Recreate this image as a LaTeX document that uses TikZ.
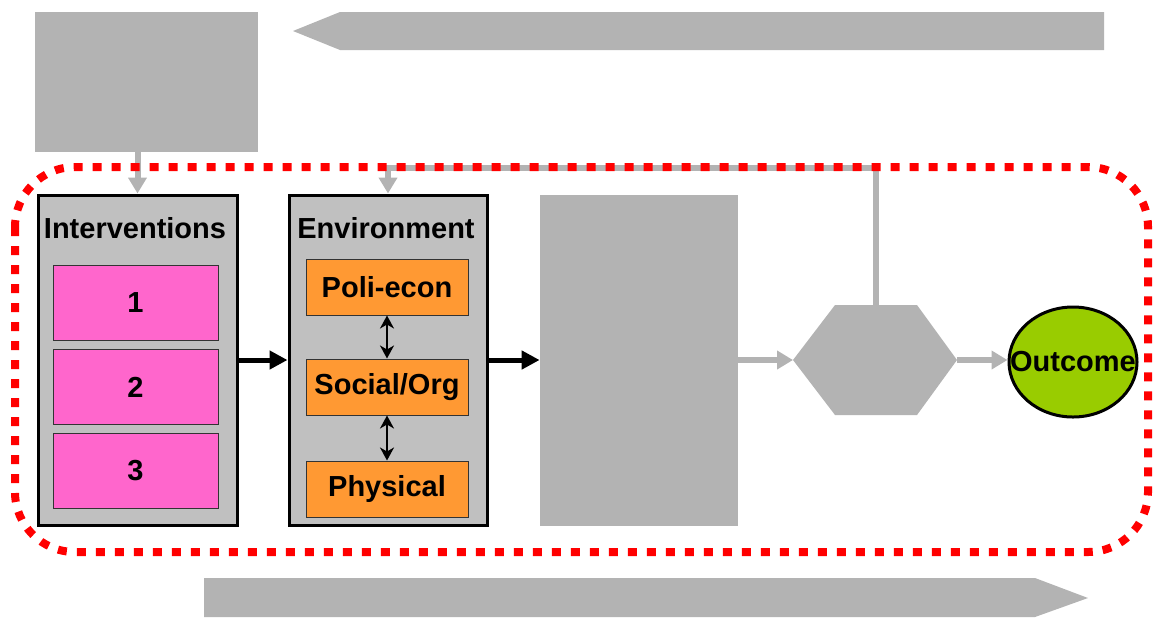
\documentclass[tikz,border=0pt]{standalone}
\usepackage{fontspec}
\setmainfont{Liberation Sans}
\usetikzlibrary{shapes.geometric,arrows.meta}

\definecolor{panelgray}{HTML}{C0C0C0}
\definecolor{blankgray}{HTML}{B3B3B3}
\definecolor{pinkbox}{HTML}{FF66CC}
\definecolor{orangebox}{HTML}{FF9933}
\definecolor{outcomegreen}{HTML}{99CC00}

\begin{document}
\begin{tikzpicture}[x=0.5pt,y=-0.5pt,
	font=\fontsize{14.5}{17}\selectfont\bfseries,
	panel/.style={draw=black,line width=1.5pt,fill=panelgray,inner sep=0pt,
		minimum width=99.5pt,minimum height=165pt},
	blank/.style={fill=blankgray,inner sep=0pt},
	pink/.style={draw=black!80,line width=0.5pt,fill=pinkbox,inner sep=0pt,
		minimum width=82.5pt,minimum height=37.5pt},
	layer/.style={draw=black!80,line width=0.5pt,fill=orangebox,inner sep=0pt,
		minimum width=81pt,minimum height=28pt},
	grayarrow/.style={draw=blankgray,line width=3pt,
		-{Triangle[width=9pt,length=8pt]}},
	blackarrow/.style={draw=black,line width=2.5pt,
		-{Triangle[width=9pt,length=9pt]}},
	link/.style={draw=black,line width=1pt,
		{Stealth[width=7pt,length=6.5pt,inset=2pt]}-{Stealth[width=7pt,length=6.5pt,inset=2pt]}}]

	\useasboundingbox (0,0) rectangle (1155,617);

	% big arrows top and bottom
	\fill[blankgray] (293,31) -- (340,12) -- (1104,12) -- (1104,50) -- (340,50) -- cycle;
	\fill[blankgray] (204,578) -- (1035,578) -- (1088,598) -- (1035,617) -- (204,617) -- cycle;

	\node[blank,minimum width=111.5pt,minimum height=70pt] (top) at (146.5,82) {};

	\node[panel] (interventions) at (137.5,360) {};
	\node (inttitle) at (135,228) {Interventions};
	\node[pink] (i1) at (135.5,302.5) {1};
	\node[pink] (i2) at (135.5,387) {2};
	\node[pink] (i3) at (135.5,471) {3};

	\node[panel,minimum width=99pt] (environment) at (388,360) {};
	\node (envtitle) at (386,228) {Environment};
	\node[layer] (poli) at (387,287) {Poli-econ};
	\node[layer] (social) at (387,387) {Social/Org};
	\node[layer] (physical) at (387,489) {Physical};

	\node[blank,minimum width=99pt,minimum height=165.5pt] (middle) at (639,360.5) {};

	\fill[blankgray] (793,360) -- (835,305) -- (917,305) -- (957,360) -- (917,415) -- (835,415) -- cycle;
	\coordinate (hexw) at (793,360);
	\coordinate (hexe) at (957,360);
	\coordinate (hexn) at (876,305);

	\node[ellipse,draw=black,line width=1.5pt,fill=outcomegreen,inner sep=0pt,
		minimum width=64pt,minimum height=55pt] (outcome) at (1073,362) {};
	\node at (outcome) {Outcome};

	\coordinate (corner1) at (876,168);
	\coordinate (corner2) at (388,168);

	\draw[grayarrow] (top.south -| interventions.north) -- (interventions.north);
	\draw[grayarrow] (hexn) -- (corner1) -- (corner2) -- (environment.north);
	\draw[grayarrow] (middle.east |- hexw) -- (hexw);
	\draw[grayarrow] (hexe) -- (hexe -| outcome.west);

	\draw[blackarrow] (interventions.east) -- (environment.west);
	\draw[blackarrow] (environment.east) -- (middle.west |- environment.east);

	\draw[link] (poli) -- (social);
	\draw[link] (social) -- (physical);

	% dotted boundary
	\draw[red,line width=4pt,dash pattern=on 4.5pt off 5pt,rounded corners=30pt]
		(15,167) rectangle (1148,552);
\end{tikzpicture}
\end{document}
